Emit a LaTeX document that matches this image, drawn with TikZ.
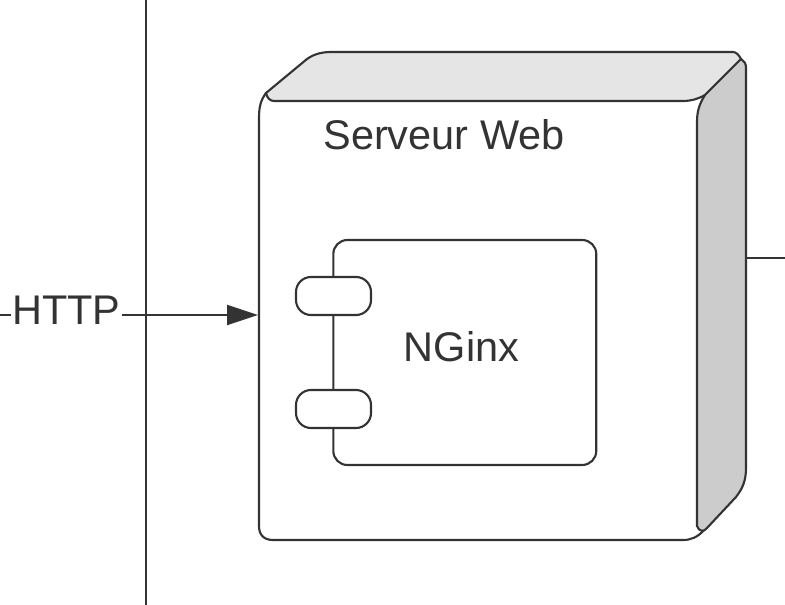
\documentclass[tikz,border=0pt]{standalone}
\usepackage{fontspec}
\setmainfont{Liberation Sans}
\usetikzlibrary{arrows.meta}
\definecolor{trait}{HTML}{333333}
\definecolor{dessus}{HTML}{E5E5E5}
\definecolor{cote}{HTML}{CCCCCC}
\tikzset{
  label/.style={text=trait,font=\fontsize{23.6}{28}\selectfont,inner sep=0pt},
  comp/.style={draw=trait,rounded corners=.28cm,minimum width=5.26cm,minimum height=4.5cm,inner sep=0pt},
  port/.style={draw=trait,fill=white,rounded corners=.3cm,minimum width=1.5cm,minimum height=.76cm,inner sep=0pt}
}
\begin{document}
\begin{tikzpicture}[x=.02cm,y=-.02cm,line width=1.2pt,draw=trait,>={Triangle[length=17.6pt,width=11.4pt]}]
  \useasboundingbox(0,0)rectangle(785,605);
  \coordinate(haut)at(146,0);
  \coordinate(bas)at(146,605);
  \coordinate(gauche)at(0,315);
  \coordinate(entree)at(258,315);
  \coordinate(droite)at(785,258);
  \coordinate(sortie)at(746,258);
  \draw(haut)--(bas);
  % faces du noeud
  \draw(266,93)..controls(261,100)and(259,106)..(259,118)--(259,526)
    ..controls(259,535)and(264,540)..(273,540)--(683,540)
    ..controls(691,540)and(698,537)..(704,530);
  \draw[fill=dessus](266,93)--(307,59)..controls(314,54)and(322,52)..(331,52)--(733,52)
    ..controls(736,52)and(739,55)..(741,59)--(705,95)
    ..controls(698,99)and(691,101)..(683,101)--(274,101)
    ..controls(270,101)and(267,98)..(266,93)--cycle;
  \draw[fill=cote](741,59)..controls(744,61)and(746,63)..(746,68)--(746,468)
    ..controls(746,480)and(743,488)..(736,497)--(707,528)
    ..controls(704,532)and(699,532)..(697,526)--(697,122)
    ..controls(697,110)and(700,103)..(705,95)--cycle;
  \node[label](serveur)at(444,135){Serveur Web};
  \node[comp](nginx)at(464.8,352.5){};
  \node[label](nginxtxt)at(461.5,347){NGinx};
  \node[port](porta)at(333.5,296){};
  \node[port](portb)at(333.5,409){};
  \node[label,anchor=base](http)at(66.5,324){HTTP};
  \draw(gauche)--(gauche-|http.west);
  \draw[->](gauche-|http.east)--(entree);
  \draw(sortie)--(droite);
\end{tikzpicture}
\end{document}
